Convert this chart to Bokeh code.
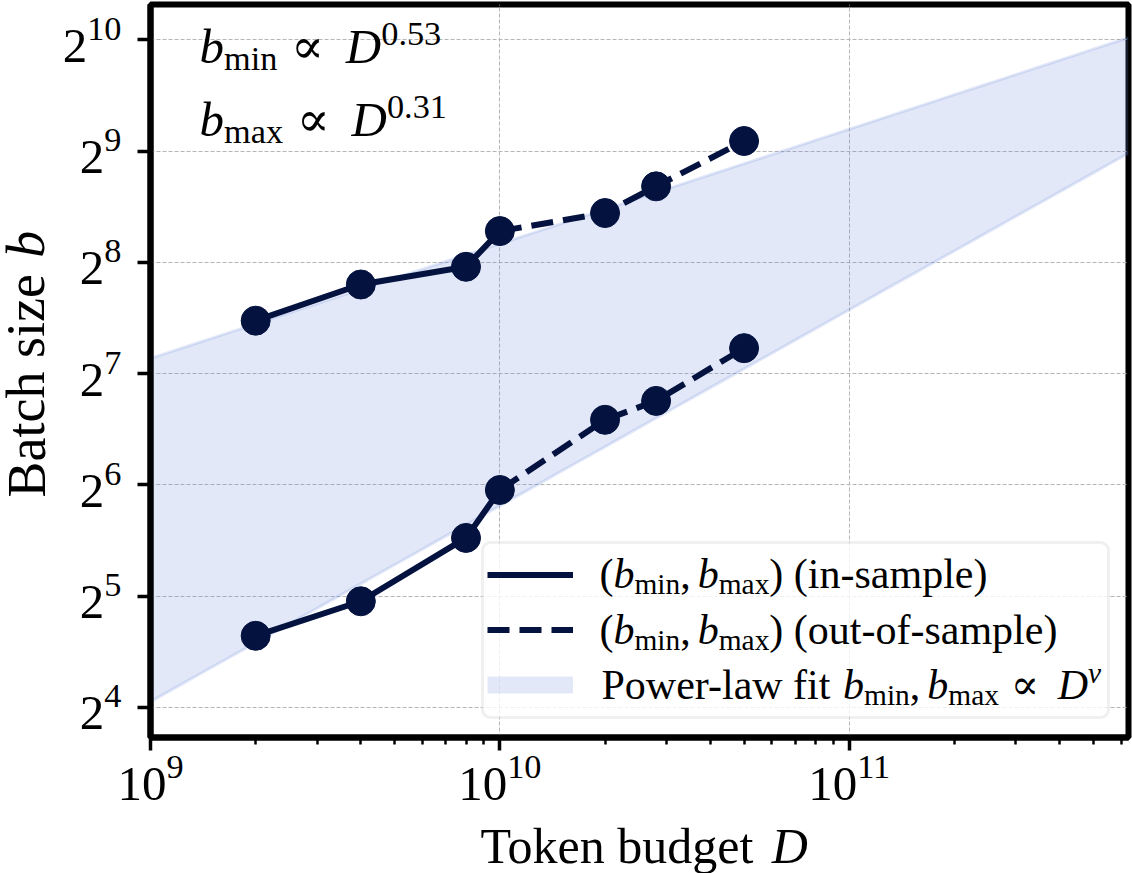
import math

import numpy as np
from bokeh.core.properties import value
from bokeh.embed import file_html
from bokeh.layouts import column, row
from bokeh.models import (BoxAnnotation, ColumnDataSource, LabelSet, Legend,
                          LegendItem, LogTicker, LogTickFormatter, Plot,
                          Range1d)
from bokeh.plotting import figure
from bokeh.resources import INLINE

# ---- data -------------------------------------------------------------
tokens = [2e9, 4e9, 8e9, 1e10, 2e10, 2.8e10, 5e10]      # token budget D
b_min = [25, 31, 46, 62, 96, 108, 150]                  # smallest good batch
b_max = [178, 223, 249, 311, 348, 411, 545]             # largest good batch
n_fit = 4                                               # first budgets are in-sample

# power-law fits  b = c * (D / D_ref) ** nu
nu_min, nu_max = 0.53, 0.31
c_min, c_max = 56.2, 287.4
D_ref = 1e10

x_lo, x_hi = 1e9, 6.3e11
y_lo, y_hi = 2 ** 3.73, 2 ** 10.317

NAVY = "#03123f"
BAND = "#6e8cdc"
SERIF = "Liberation Serif"
SYMBOL = "DejaVu Serif"

LEFT_W = 46          # strip holding the y title
BOTTOM_H = 46        # strip holding the x title
TOTAL_W, TOTAL_H = 1132, 873
HAS_FRAME_ALIGN = "frame_align" in Plot.properties()

# ---- main figure ------------------------------------------------------
p = figure(width=TOTAL_W - LEFT_W, height=TOTAL_H - BOTTOM_H,
           x_axis_type="log", y_axis_type="log",
           x_range=Range1d(x_lo, x_hi), y_range=Range1d(y_lo, y_hi),
           output_backend="svg", toolbar_location=None,
           min_border_left=150 - LEFT_W, min_border_right=4,
           min_border_top=4, min_border_bottom=TOTAL_H - BOTTOM_H - 737)
p.background_fill_color = "white"
p.border_fill_color = "white"
p.outline_line_color = "black"
p.outline_line_width = 6
if HAS_FRAME_ALIGN:
    p.frame_align = False

xt = LogTicker(base=10, num_minor_ticks=10)
yt = LogTicker(base=2, num_minor_ticks=0)
p.xaxis.ticker = xt
p.yaxis.ticker = yt
p.xaxis.formatter = LogTickFormatter(ticker=xt)
p.yaxis.formatter = LogTickFormatter(ticker=yt)
p.xgrid.ticker = xt
p.ygrid.ticker = yt

for ax in (p.xaxis[0], p.yaxis[0]):
    ax.axis_line_color = "black"
    ax.axis_line_width = 6
    ax.major_tick_in = 0
    ax.major_tick_out = 13
    ax.major_tick_line_width = 3.5
    ax.major_tick_line_color = "black"
    ax.minor_tick_in = 0
    ax.minor_tick_out = 7
    ax.minor_tick_line_width = 2.5
    ax.minor_tick_line_color = "black"
    ax.major_label_text_font = SERIF
    ax.major_label_text_font_size = "49px"
    ax.major_label_text_color = "black"
p.yaxis.minor_tick_line_color = None
p.xaxis.major_label_standoff = 5
p.yaxis.major_label_standoff = 16

for g in (p.xgrid[0], p.ygrid[0]):
    g.grid_line_color = "#b5b5b5"
    g.grid_line_width = 1
    g.grid_line_dash = "4 2"

# ---- fitted band ------------------------------------------------------
fit_D = np.logspace(np.log10(x_lo), np.log10(x_hi), 60)
fit_lo = c_min * (fit_D / D_ref) ** nu_min
fit_hi = c_max * (fit_D / D_ref) ** nu_max

p.varea(x=fit_D, y1=fit_lo, y2=fit_hi, fill_color=BAND, fill_alpha=0.2)
p.multi_line(xs=[list(fit_D), list(fit_D)], ys=[list(fit_lo), list(fit_hi)],
             line_color=BAND, line_alpha=0.2, line_width=3)
# legend key for the band: a thick stroke in the band colour, never on screen
band_key = p.line(x=[x_lo, x_hi], y=[float("nan"), float("nan")],
                  line_color=BAND, line_alpha=0.2, line_width=17)

# ---- measured bounds --------------------------------------------------
solid = p.multi_line(xs=[tokens[:n_fit], tokens[:n_fit]],
                     ys=[b_min[:n_fit], b_max[:n_fit]],
                     line_color=NAVY, line_width=6, line_join="round")
dashed = p.multi_line(xs=[tokens[n_fit - 1:], tokens[n_fit - 1:]],
                      ys=[b_min[n_fit - 1:], b_max[n_fit - 1:]],
                      line_color=NAVY, line_width=6, line_dash="22 10")
p.scatter(x=tokens + tokens, y=b_min + b_max, size=29,
          fill_color=NAVY, line_color=NAVY)

# ---- legend: translucent panel, keys, and typeset text ----------------
panel = BoxAnnotation(left=332, right=958, bottom=20, top=195,
                      left_units="screen", right_units="screen",
                      bottom_units="screen", top_units="screen",
                      fill_color="white", fill_alpha=0.8,
                      line_color="#cccccc", line_width=3, level="annotation")
if "border_radius" in BoxAnnotation.properties():
    panel.border_radius = 8
p.add_layout(panel)

legend = Legend(
    items=[LegendItem(label=value(" "), renderers=[solid]),
           LegendItem(label=value(" "), renderers=[dashed]),
           LegendItem(label=value(" "), renderers=[band_key])],
    location=(337, 28), orientation="vertical",
    glyph_width=86, glyph_height=49, label_height=49, label_width=518,
    label_standoff=7, spacing=6, padding=7, margin=0,
    label_text_font_size="8px",
    border_line_color=None, background_fill_alpha=0)
p.add_layout(legend)


# ---- strips for the axis titles ---------------------------------------
def caption_strip(w, h):
    f = figure(width=w, height=h, x_range=Range1d(0, w), y_range=Range1d(0, h),
               x_axis_location=None, y_axis_location=None, title=None,
               toolbar_location=None, output_backend="svg", min_border=0)
    f.outline_line_color = None
    f.background_fill_color = "white"
    f.border_fill_color = "white"
    f.grid.grid_line_color = None
    if HAS_FRAME_ALIGN:
        f.frame_align = False
    return f


ylab = caption_strip(LEFT_W, TOTAL_H)
xlab = caption_strip(TOTAL_W - LEFT_W, BOTTOM_H)

# ---- typesetting helpers for sub/superscripts -------------------------
ADV = {" ": .25, "(": .333, ")": .333, ",": .25, "-": .333, ".": .25,
       "a": .444, "b": .5, "c": .444, "d": .5, "e": .444, "f": .333,
       "g": .5, "h": .5, "i": .278, "k": .5, "l": .278, "m": .778,
       "n": .5, "o": .5, "p": .5, "r": .333, "s": .389, "t": .278,
       "u": .5, "w": .722, "x": .5, "z": .444, "B": .667, "D": .722,
       "P": .556, "T": .611, "ν": .45}


def advance(text, style):
    if style == "sym":
        return 0.838 * len(text)
    return sum(ADV.get(ch, 0.5) for ch in text)


def typeset(runs, x0, y0, parts, size, angle=0.0):
    pos = 0.0
    ca, sa = math.cos(angle), math.sin(angle)
    for part in parts:
        if isinstance(part, (int, float)):
            pos += part * size
            continue
        text, style, level = part
        fs = size * (0.7 if level else 1.0)
        shift = {0: 0.0, -1: -0.15 * size, 1: 0.36 * size}[level]
        runs.setdefault(style, []).append(
            dict(x=x0 + pos * ca - shift * sa, y=y0 + pos * sa + shift * ca,
                 text=text, size=f"{fs:.1f}px", angle=angle))
        pos += advance(text, style) * fs


def bmin_bmax(tail):
    return [("(", "normal", 0), ("b", "italic", 0), ("min", "normal", -1),
            (",", "normal", 0), 0.167, ("b", "italic", 0),
            ("max", "normal", -1), (")" + tail, "normal", 0)]


STYLES = {"normal": (SERIF, "normal"), "italic": (SERIF, "italic"),
          "sym": (SYMBOL, "normal")}


def place(fig, runs, units):
    for key, rows in runs.items():
        font, style = STYLES[key]
        src = ColumnDataSource({k: [r[k] for r in rows] for k in rows[0]})
        fig.add_layout(LabelSet(x="x", y="y", text="text", angle="angle",
                                x_units=units, y_units=units, source=src,
                                text_font=value(font),
                                text_font_style=value(style),
                                text_font_size="size", text_color="black",
                                text_align=value("left"),
                                text_baseline=value("alphabetic"),
                                level="overlay"))


# in-plot texts: pixels from the lower-left corner of the plot frame
inner = {}
typeset(inner, 49, 675, [("b", "italic", 0), ("min", "normal", -1), 0.28,
                         ("∝", "sym", 0), 0.28, ("D", "italic", 0),
                         ("0.53", "normal", 1)], 49)
typeset(inner, 49, 602, [("b", "italic", 0), ("max", "normal", -1), 0.28,
                         ("∝", "sym", 0), 0.28, ("D", "italic", 0),
                         ("0.31", "normal", 1)], 49)
typeset(inner, 449, 150, bmin_bmax(" (in-sample)"), 42)
typeset(inner, 449, 94, bmin_bmax(" (out-of-sample)"), 42)
typeset(inner, 451, 39, [("Power-law fit", "normal", 0), 0.28,
                         ("b", "italic", 0), ("min", "normal", -1),
                         (",", "normal", 0), 0.167, ("b", "italic", 0),
                         ("max", "normal", -1), 0.28, ("∝", "sym", 0), 0.28,
                         ("D", "italic", 0), ("ν", "italic", 1)], 42)
place(p, inner, "screen")

# axis titles (strip pixels, origin at the strip's lower-left corner)
xruns, yruns = {}, {}
typeset(xruns, 434, 11, [("Token budget", "normal", 0), 0.3,
                         ("D", "italic", 0)], 50)
typeset(yruns, 44, 376, [("Batch size", "normal", 0), 0.3,
                         ("b", "italic", 0)], 54, angle=math.pi / 2)
place(xlab, xruns, "data")
place(ylab, yruns, "data")

layout = row(ylab, column(p, xlab, spacing=0), spacing=0)

open("out.html", "w").write(file_html(layout, INLINE))
